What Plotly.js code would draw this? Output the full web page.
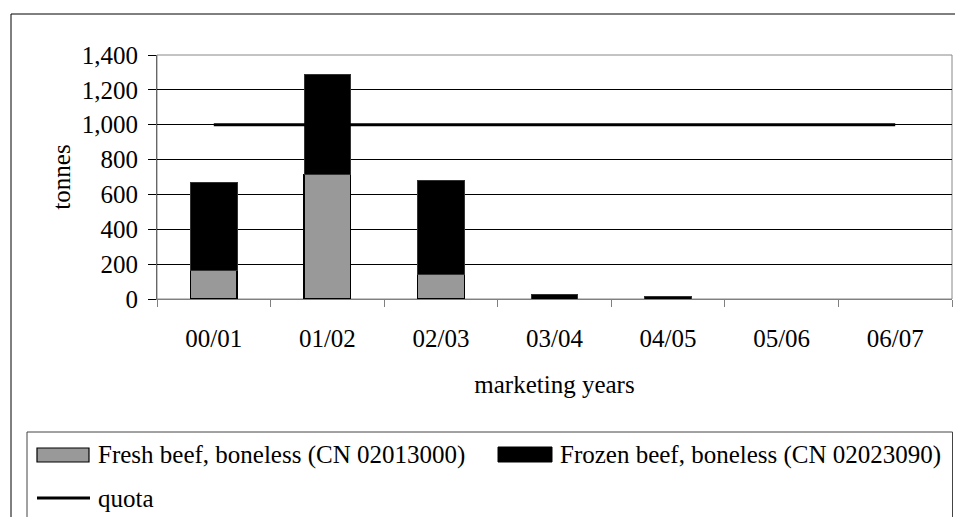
<!DOCTYPE html>
<html>
<head>
<meta charset="utf-8">
<script src="https://cdn.plot.ly/plotly-3.0.1.min.js"></script>
<style>
html,body{margin:0;padding:0;background:#fff;}
#chart{width:955px;height:517px;}
</style>
</head>
<body>
<div id="chart"></div>
<script>
var years = ["00/01","01/02","02/03","03/04","04/05","05/06","06/07"];
var freshBeef = [166, 715, 142, 0, 0, 0, 0];
var frozenBeef = [501, 572, 537, 27, 15, 0, 0];
var quota = [1000, 1000, 1000, 1000, 1000, 1000, 1000];
var seriesNames = ["Fresh beef, boneless (CN 02013000)", "Frozen beef, boneless (CN 02023090)", "quota"];

var W = 955, H = 517;
var L = 157, R = 952, T = 55, B = 299;
function px(x){ return (x - L) / (R - L); }
function py(y){ return (B - y) / (B - T); }
var FONT = "Liberation Serif, Times New Roman, serif";
var FS = 25;
function edgeWidths(vals, w){ return vals.map(function(v){ return v > 0 ? w : 0; }); }

var traces = [
  {type:"bar", name:seriesNames[0], x:years, y:freshBeef, width:0.41,
   marker:{color:"#999999", line:{color:"#000000", width:edgeWidths(freshBeef, 1.2)}}, showlegend:false, hoverinfo:"y"},
  {type:"bar", name:seriesNames[1], x:years, y:frozenBeef, width:0.41,
   marker:{color:"#000000", line:{color:"#333333", width:edgeWidths(frozenBeef, 1)}}, showlegend:false, hoverinfo:"y"},
  {type:"scatter", mode:"lines", name:seriesNames[2], x:years, y:quota,
   line:{color:"#000000", width:3}, showlegend:false, hoverinfo:"y"}
];

var shapes = [
  {type:"rect", xref:"paper", yref:"paper", x0:px(11), x1:px(965), y0:py(530), y1:py(14),
   line:{color:"#000000", width:1}, fillcolor:"rgba(0,0,0,0)", layer:"below"},
  {type:"rect", xref:"paper", yref:"paper", x0:0, x1:1, y0:0, y1:1,
   line:{color:"#888888", width:1}, fillcolor:"rgba(0,0,0,0)", layer:"below"},
  {type:"rect", xref:"paper", yref:"paper", x0:px(27), x1:px(952.5), y0:py(530), y1:py(432),
   line:{color:"#444444", width:1}, fillcolor:"rgba(0,0,0,0)"},
  {type:"rect", xref:"paper", yref:"paper", x0:px(37), x1:px(89), y0:py(462), y1:py(448),
   line:{color:"#000000", width:1.2}, fillcolor:"#999999"},
  {type:"rect", xref:"paper", yref:"paper", x0:px(498), x1:px(552), y0:py(462), y1:py(447),
   line:{color:"#000000", width:1}, fillcolor:"#000000"},
  {type:"line", xref:"paper", yref:"paper", x0:px(37), x1:px(90), y0:py(498), y1:py(498),
   line:{color:"#000000", width:3}}
];

var annotations = [
  {xref:"paper", yref:"paper", x:px(96), y:py(455), xanchor:"left", yanchor:"middle",
   text:seriesNames[0], showarrow:false, font:{family:FONT, size:FS, color:"#000"}},
  {xref:"paper", yref:"paper", x:px(558), y:py(455), xanchor:"left", yanchor:"middle",
   text:seriesNames[1], showarrow:false, font:{family:FONT, size:FS, color:"#000"}},
  {xref:"paper", yref:"paper", x:px(96), y:py(498), xanchor:"left", yanchor:"middle",
   text:seriesNames[2], showarrow:false, font:{family:FONT, size:FS, color:"#000"}}
];

var layout = {
  width:W, height:H,
  margin:{l:L, r:W-R, t:T, b:H-B, pad:0},
  paper_bgcolor:"#ffffff", plot_bgcolor:"#ffffff",
  font:{family:FONT, size:FS, color:"#000"},
  barmode:"stack",
  showlegend:false,
  xaxis:{type:"category", range:[-0.5,6.5], fixedrange:true, tickson:"boundaries",
    ticks:"outside", ticklen:7, tickcolor:"#808080", tickwidth:1,
    showline:true, linecolor:"#808080", linewidth:1.2, showgrid:false, zeroline:false,
    tickfont:{family:FONT, size:FS, color:"#000"}, ticklabelstandoff:17,
    title:{text:"marketing years", font:{family:FONT, size:FS, color:"#000"}, standoff:24}},
  yaxis:{range:[0,1400], dtick:200, tick0:0, fixedrange:true, tickformat:",d",
    ticks:"outside", ticklen:8, tickcolor:"#000000", tickwidth:1,
    showline:true, linecolor:"#666666", linewidth:1, showgrid:true, gridcolor:"#000000", gridwidth:1,
    zeroline:false, tickfont:{family:FONT, size:FS, color:"#000"}, ticklabelstandoff:5,
    title:{text:"tonnes", font:{family:FONT, size:FS, color:"#000"}, standoff:4}},
  shapes:shapes,
  annotations:annotations
};

Plotly.newPlot("chart", traces, layout, {displayModeBar:false, staticPlot:true});
</script>
</body>
</html>
